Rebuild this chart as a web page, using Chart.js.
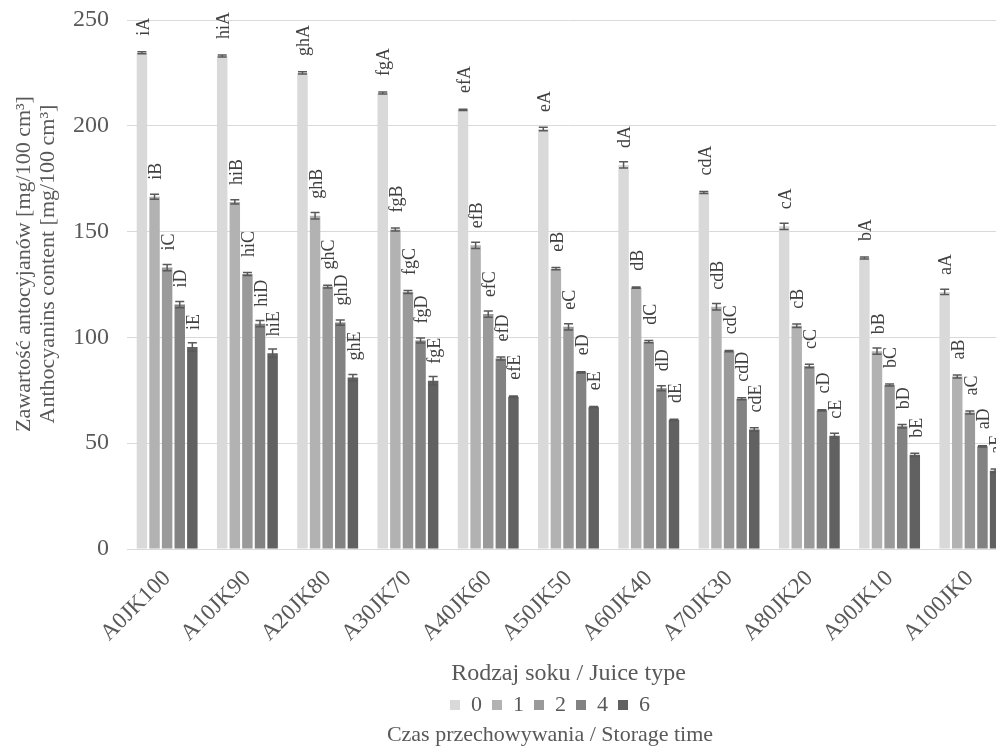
<!DOCTYPE html>
<html>
<head>
<meta charset="utf-8">
<script src="https://cdn.jsdelivr.net/npm/chart.js@4.4.0/dist/chart.umd.min.js"></script>
<style>
  html, body { margin: 0; padding: 0; background: #fff; overflow: hidden; }
  #wrap { width: 1100px; height: 746px; }
</style>
</head>
<body>
<div id="wrap"><canvas id="chart" width="1100" height="746"></canvas></div>
<script>
// ---- data ----
const categories = ['A0JK100', 'A10JK90', 'A20JK80', 'A30JK70', 'A40JK60', 'A50JK50',
    'A60JK40', 'A70JK30', 'A80JK20', 'A90JK10', 'A100JK0'];
const storageTimes = ['0', '1', '2', '4', '6'];

const time0 = [234.5, 233, 225, 215.5, 207.5, 198.5, 181.5, 168.5, 152.5, 137.5, 121.5];
const time1 = [166.5, 164, 157.5, 151, 143.5, 132.5, 123.5, 114.5, 105.5, 93.5, 81.5];
const time2 = [133, 130, 124, 121.5, 111, 105, 98, 93.5, 86.5, 77.5, 64.5];
const time4 = [115.5, 106.5, 107, 98.5, 90, 83.5, 76, 71, 65.5, 58, 48.5];
const time6 = [95.5, 92.5, 81, 79.5, 72, 67, 61, 56.5, 53.5, 44.5, 37];

const err0 = [0.5, 0.5, 0.5, 0.5, 0.3, 0.8, 1.5, 0.5, 1.5, 0.5, 1.2];
const err1 = [1.2, 1, 1.5, 0.7, 1.5, 0.5, 0.3, 1.5, 0.8, 1.5, 0.7];
const err2 = [1.5, 0.7, 0.7, 0.7, 1.5, 1.5, 0.5, 0.3, 0.8, 0.5, 0.7];
const err4 = [1.5, 1.5, 1.2, 1.2, 0.7, 0.3, 1.2, 0.5, 0.3, 0.8, 0.3];
const err6 = [2, 2, 1.5, 2, 0.3, 0.3, 0.3, 0.8, 1.2, 0.8, 0.8];

const letters0 = ['iA', 'hiA', 'ghA', 'fgA', 'efA', 'eA', 'dA', 'cdA', 'cA', 'bA', 'aA'];
const letters1 = ['iB', 'hiB', 'ghB', 'fgB', 'efB', 'eB', 'dB', 'cdB', 'cB', 'bB', 'aB'];
const letters2 = ['iC', 'hiC', 'ghC', 'fgC', 'efC', 'eC', 'dC', 'cdC', 'cC', 'bC', 'aC'];
const letters4 = ['iD', 'hiD', 'ghD', 'fgD', 'efD', 'eD', 'dD', 'cdD', 'cD', 'bD', 'aD'];
const letters6 = ['iE', 'hiE', 'ghE', 'fgE', 'efE', 'eE', 'dE', 'cdE', 'cE', 'bE', 'aE'];

const yTicks = [0, 50, 100, 150, 200, 250];
const yTitle = ['Zawartość antocyjanów [mg/100 cm³]', 'Anthocyanins content [mg/100 cm³]'];

const colors = ['#d9d9d9', '#b2b2b2', '#9a9a9a', '#828282', '#616161'];
const FONT = '"Liberation Serif", "Times New Roman", serif';
const TEXT = '#595959';

const seriesValues = [time0, time1, time2, time4, time6];
const seriesErrors = [err0, err1, err2, err4, err6];
const seriesLetters = [letters0, letters1, letters2, letters4, letters6];

// error bars + letter labels + y axis title
const annotate = {
    id: 'annotate',
    afterDatasetsDraw(chart) {
        const ctx = chart.ctx;
        const y = chart.scales.y;
        chart.data.datasets.forEach((ds, i) => {
            const meta = chart.getDatasetMeta(i);
            meta.data.forEach((bar, j) => {
                const v = ds.data[j];
                const e = seriesErrors[i][j];
                const top = y.getPixelForValue(v + e);
                const bot = y.getPixelForValue(v - e);
                ctx.save();
                ctx.strokeStyle = '#595959';
                ctx.lineWidth = 1.5;
                ctx.beginPath();
                ctx.moveTo(bar.x, top);
                ctx.lineTo(bar.x, bot);
                ctx.moveTo(bar.x - 4.5, top);
                ctx.lineTo(bar.x + 4.5, top);
                ctx.moveTo(bar.x - 4.5, bot);
                ctx.lineTo(bar.x + 4.5, bot);
                ctx.stroke();

                ctx.translate(bar.x + 2, y.getPixelForValue(v) - 17);
                ctx.rotate(-Math.PI / 2);
                ctx.font = '18px ' + FONT;
                ctx.fillStyle = '#404040';
                ctx.textAlign = 'left';
                ctx.textBaseline = 'middle';
                ctx.fillText(seriesLetters[i][j], 0, 0);
                ctx.restore();
            });
        });
    },
    afterDraw(chart) {
        const ctx = chart.ctx;
        ctx.save();
        ctx.font = '22px ' + FONT;
        ctx.fillStyle = TEXT;
        ctx.textAlign = 'center';
        ctx.textBaseline = 'middle';
        yTitle.forEach((line, k) => {
            ctx.save();
            ctx.translate(24 + k * 24, 264);
            ctx.rotate(-Math.PI / 2);
            ctx.fillText(line, 0, 0);
            ctx.restore();
        });
        ctx.restore();
    }
};

new Chart(document.getElementById('chart'), {
    type: 'bar',
    data: {
        labels: categories,
        datasets: storageTimes.map((t, i) => ({
            label: t,
            data: seriesValues[i],
            backgroundColor: colors[i],
            borderWidth: 0,
            categoryPercentage: 0.785,
            barPercentage: 0.83
        }))
    },
    options: {
        responsive: false,
        animation: false,
        layout: { padding: { top: 20, left: 0, right: 0, bottom: 0 } },
        plugins: {
            legend: {
                position: 'bottom',
                labels: {
                    boxWidth: 10,
                    boxHeight: 10,
                    padding: 10,
                    color: TEXT,
                    font: { family: FONT, size: 22 }
                }
            },
            title: {
                display: true,
                position: 'bottom',
                text: 'Czas przechowywania / Storage time',
                color: TEXT,
                font: { family: FONT, size: 22, weight: 'normal', lineHeight: 1.0 },
                padding: { top: -2, bottom: 0 }
            },
            tooltip: { enabled: false }
        },
        scales: {
            x: {
                afterFit(s) { s.height = 135; },
                grid: { display: false },
                border: { color: '#d9d9d9' },
                ticks: {
                    color: TEXT,
                    font: { family: FONT, size: 23 },
                    minRotation: 45,
                    maxRotation: 45,
                    padding: 8
                },
                title: {
                    display: true,
                    text: 'Rodzaj soku / Juice type',
                    color: TEXT,
                    font: { family: FONT, size: 24 },
                    padding: { top: 4, bottom: -4 }
                }
            },
            y: {
                min: 0,
                max: 250,
                afterBuildTicks(s) { s.ticks = yTicks.map(v => ({ value: v })); },
                afterFit(s) {
                    s.width = 127;
                    s.paddingTop = 0;
                    s.paddingBottom = 0;
                },
                grid: { color: '#d9d9d9', drawTicks: false },
                border: { display: false },
                ticks: {
                    color: TEXT,
                    font: { family: FONT, size: 24 },
                    padding: 18
                }
            },
            y2: {
                position: 'right',
                grid: { display: false },
                border: { display: false },
                ticks: { display: false },
                afterFit(s) { s.width = 90; }
            }
        }
    },
    plugins: [annotate]
});
</script>
</body>
</html>
